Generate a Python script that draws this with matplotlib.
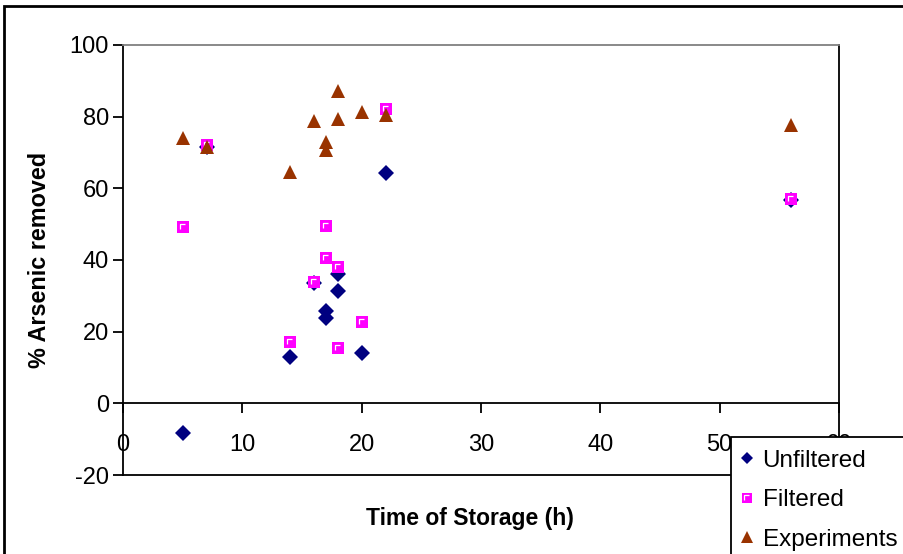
import matplotlib.pyplot as plt
from matplotlib.path import Path
from matplotlib.patches import Rectangle

plt.rcParams["font.family"] = ["Liberation Sans", "DejaVu Sans"]
plt.rcParams["axes.unicode_minus"] = False

# storage time (h) and % arsenic removed
unf_time = [5, 7, 14, 16, 17, 17, 18, 18, 20, 22, 56]
unf_pct = [-8.4, 71.6, 12.9, 33.6, 25.8, 23.9, 36.2, 31.4, 14.0, 64.4, 56.8]

filt_time = [5, 7, 14, 16, 17, 17, 18, 18, 20, 22, 56]
filt_pct = [49.1, 72.1, 17.0, 33.9, 49.4, 40.6, 38.0, 15.5, 22.7, 82.2, 57.1]

exp_time = [5, 7, 14, 16, 17, 17, 18, 18, 20, 22, 56]
exp_pct = [74.0, 71.5, 64.6, 78.8, 73.0, 70.6, 87.2, 79.4, 81.3, 80.4, 77.8]

labels = ["Unfiltered", "Filtered", "Experiments"]
xticks = [0, 10, 20, 30, 40, 50, 60]
yticks = [-20, 0, 20, 40, 60, 80, 100]

W, H = 904, 554
fs = 17

fig = plt.figure(figsize=(W / 100, H / 100), dpi=100)
ax = fig.add_axes([123 / W, 1 - 475 / H, (839 - 123) / W, (475 - 45) / H])

# white "corner" glint inside the Excel style square marker
glint = Path([(-1, -1), (1, 1), (-0.55, -0.35), (-0.55, 0.55), (0.35, 0.55)],
             [Path.MOVETO, Path.MOVETO, Path.MOVETO, Path.LINETO, Path.LINETO])

h1, = ax.plot(unf_time, unf_pct, "D", color="#000080", markersize=8,
              markeredgewidth=0, linestyle="none", clip_on=False)
h2, = ax.plot(filt_time, filt_pct, "s", color="#FF00FF", markersize=8.4,
              markeredgewidth=0, linestyle="none", clip_on=False)
h2g, = ax.plot(filt_time, filt_pct, marker=glint, color="white", markersize=8.4,
               markeredgewidth=0.9, fillstyle="none", linestyle="none", clip_on=False)
h3, = ax.plot(exp_time, exp_pct, "^", color="#993300", markersize=10.5,
              markeredgewidth=0, linestyle="none", clip_on=False)

ax.set_xlim(0, 60)
ax.set_ylim(-20, 100)
ax.set_xticks(xticks)
ax.set_yticks(yticks)

ax.spines["bottom"].set_position(("data", 0))
ax.spines["top"].set_color("#808080")
for s in ["left", "bottom", "right"]:
    ax.spines[s].set_color("black")
for s in ax.spines.values():
    s.set_linewidth(1.3)
ax.plot([0, 1], [0, 0], transform=ax.transAxes, color="black", lw=1.3, clip_on=False)

ax.tick_params(axis="x", direction="out", length=7, width=1.3, pad=15, labelsize=fs)
ax.tick_params(axis="y", direction="out", length=7, width=1.3, pad=3, labelsize=fs)

ax.set_xlabel("Time of Storage (h)", fontsize=16.5, fontweight="bold")
ax.set_ylabel("% Arsenic removed", fontsize=16.8, fontweight="bold")
ax.xaxis.set_label_coords((470 - 123) / (839 - 123), (475 - 507) / (475 - 45))
ax.yaxis.set_label_coords((51 - 123) / (839 - 123), (475 - 260) / (475 - 45))

# legend box runs off the right / bottom edge like the cropped original
fig.patches.append(Rectangle((731 / W, -0.1), 0.5, 1 - 437 / H + 0.1,
                             transform=fig.transFigure, facecolor="white",
                             edgecolor="black", linewidth=1.3, zorder=5))
leg = fig.legend([h1, (h2, h2g), h3], labels, loc="upper left",
                 bbox_to_anchor=(731 / W, 1 - 437 / H), borderaxespad=0,
                 fontsize=17.5, frameon=False,
                 handlelength=0.25, handletextpad=0.52, labelspacing=0.72,
                 borderpad=0.53, markerscale=0.8)
leg.set_zorder(6)

fig.patches.append(Rectangle((4.5 / W, -0.1), 1.2, 1 - 6.5 / H + 0.1,
                             transform=fig.transFigure, fill=False,
                             edgecolor="black", linewidth=2))

fig.savefig("out.png", dpi=100)
